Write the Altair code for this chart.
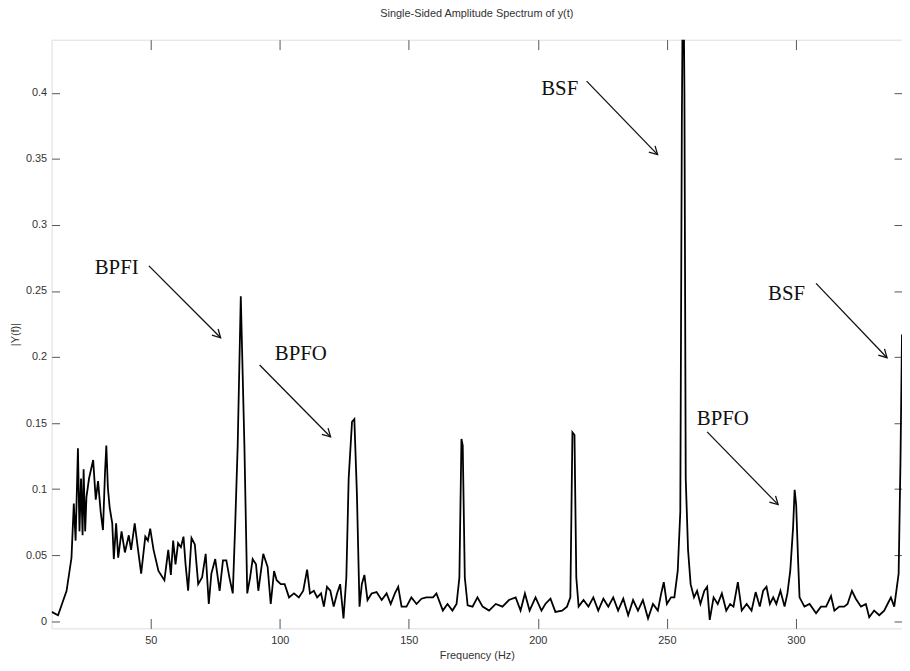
import altair as alt
import pandas as pd

# ---- data ----
freq = [11.6, 14.1, 17.4, 19.3, 20.2, 20.9, 21.8, 22.4, 23.0, 23.6, 24.0, 24.6, 25.1, 26.1, 27.7, 28.7, 29.6,
        30.6, 31.5, 32.3, 32.8, 33.4, 34.1, 35.1, 35.7, 36.6, 37.4, 38.7, 40.0, 41.5, 42.4, 43.8, 45.1, 46.3,
        47.9, 48.9, 49.8, 51.1, 53.0, 55.3, 56.8, 57.8, 58.7, 59.6, 60.6, 61.7, 62.7, 63.5, 64.5, 65.8, 67.1,
        68.4, 69.9, 71.3, 72.5, 73.5, 75.0, 76.7, 78.0, 79.3, 80.5, 81.8, 82.7, 83.7, 84.9, 86.3, 87.4, 88.5,
        89.5, 90.8, 91.7, 93.6, 95.3, 96.5, 97.8, 98.8, 100.4, 101.9, 103.6, 105.5, 107.4, 109.1, 110.6, 111.7,
        113.2, 114.5, 116.0, 117.1, 118.3, 119.6, 120.9, 122.2, 123.4, 124.7, 125.8, 126.7, 128.0, 128.9, 129.9,
        130.9, 131.8, 132.8, 134.0, 135.6, 137.5, 139.5, 141.4, 143.0, 144.6, 145.9, 147.2, 149.1, 151.0, 153.0,
        154.9, 156.8, 159.4, 160.7, 163.2, 165.0, 166.9, 168.5, 169.6, 170.4, 170.9, 171.7, 172.8, 174.7, 176.6,
        178.6, 181.1, 183.7, 186.3, 188.8, 191.4, 193.3, 195.0, 196.8, 199.1, 201.4, 202.9, 204.9, 206.8, 209.4,
        211.3, 212.6, 213.4, 214.2, 214.9, 215.8, 217.7, 219.6, 221.5, 223.4, 225.4, 227.3, 229.2, 231.1, 233.1,
        235.0, 236.9, 238.8, 240.7, 242.7, 244.6, 246.5, 247.8, 248.8, 250.0, 251.6, 252.9, 254.2, 255.2, 255.8,
        256.3, 256.8, 257.3, 258.2, 259.2, 260.5, 261.7, 263.0, 264.5, 265.6, 266.6, 268.1, 269.7, 271.3, 273.0,
        274.5, 275.8, 277.5, 279.0, 280.9, 282.8, 284.4, 286.0, 287.3, 288.6, 289.9, 291.2, 292.4, 294.0, 295.6,
        296.7, 297.8, 298.9, 299.5, 300.1, 300.8, 301.4, 303.3, 305.3, 307.8, 309.7, 311.7, 313.6, 314.9, 316.8,
        318.7, 320.0, 321.7, 323.2, 325.2, 327.1, 328.4, 330.3, 332.3, 334.2, 335.5, 336.8, 338.1, 339.8, 340.5,
        341.1]
amp = [0.007, 0.0045, 0.023, 0.048, 0.089, 0.061, 0.131, 0.068, 0.108, 0.065, 0.115, 0.068, 0.094, 0.108, 0.122,
       0.092, 0.106, 0.083, 0.069, 0.113, 0.133, 0.101, 0.086, 0.074, 0.047, 0.074, 0.048, 0.068, 0.052, 0.065,
       0.054, 0.074, 0.054, 0.036, 0.064, 0.061, 0.070, 0.054, 0.038, 0.031, 0.054, 0.035, 0.061, 0.043, 0.059,
       0.056, 0.064, 0.043, 0.023, 0.063, 0.058, 0.028, 0.033, 0.051, 0.013, 0.036, 0.047, 0.023, 0.046, 0.046,
       0.033, 0.021, 0.071, 0.133, 0.246, 0.133, 0.021, 0.033, 0.047, 0.043, 0.023, 0.051, 0.041, 0.013, 0.038,
       0.031, 0.028, 0.028, 0.018, 0.021, 0.018, 0.023, 0.039, 0.021, 0.023, 0.018, 0.021, 0.011, 0.026, 0.023,
       0.011, 0.021, 0.028, 0.002, 0.033, 0.108, 0.151, 0.153, 0.096, 0.011, 0.028, 0.035, 0.016, 0.021, 0.022,
       0.016, 0.021, 0.013, 0.021, 0.026, 0.011, 0.011, 0.018, 0.013, 0.017, 0.018, 0.018, 0.021, 0.008, 0.013,
       0.008, 0.013, 0.033, 0.138, 0.133, 0.033, 0.012, 0.011, 0.018, 0.011, 0.008, 0.013, 0.011, 0.016, 0.018,
       0.008, 0.021, 0.008, 0.018, 0.008, 0.013, 0.017, 0.007, 0.008, 0.011, 0.018, 0.143, 0.141, 0.033, 0.011,
       0.016, 0.011, 0.018, 0.008, 0.017, 0.011, 0.018, 0.008, 0.017, 0.0045, 0.016, 0.008, 0.016, 0.002, 0.013,
       0.008, 0.021, 0.0295, 0.013, 0.018, 0.018, 0.038, 0.083, 0.38, 0.52, 0.40, 0.108, 0.054, 0.028, 0.018,
       0.023, 0.013, 0.023, 0.026, 0.001, 0.018, 0.013, 0.021, 0.008, 0.013, 0.011, 0.0295, 0.008, 0.013, 0.008,
       0.022, 0.011, 0.023, 0.026, 0.013, 0.018, 0.013, 0.023, 0.011, 0.021, 0.038, 0.071, 0.0995, 0.088, 0.048,
       0.018, 0.011, 0.013, 0.006, 0.011, 0.011, 0.019, 0.008, 0.011, 0.011, 0.013, 0.023, 0.017, 0.011, 0.013,
       0.003, 0.008, 0.0045, 0.008, 0.013, 0.018, 0.011, 0.036, 0.12, 0.217]

x_ticks = [50, 100, 150, 200, 250, 300]
y_ticks = [0, 0.05, 0.1, 0.15, 0.2, 0.25, 0.3, 0.35, 0.4]
x_domain = [11.6, 341.1]
y_domain = [-0.0055, 0.4403]

labels = ["BPFI", "BPFO", "BSF", "BPFO", "BSF"]
label_f = [28.3, 98.1, 201.3, 261.6, 289.2]
label_v = [0.2673, 0.202, 0.4027, 0.1533, 0.2478]
arrow_f1 = [49.3, 92.2, 218.9, 265.6, 307.8]
arrow_v1 = [0.269, 0.194, 0.4089, 0.1433, 0.2558]
arrow_f2 = [77.1, 119.7, 246.4, 293.1, 335.3]
arrow_v2 = [0.2146, 0.1395, 0.3533, 0.0882, 0.1995]

title = "Single-Sided Amplitude Spectrum of y(t)"
x_title = "Frequency (Hz)"
y_title = "|Y(f)|"

# ---- chart ----
spec_df = pd.DataFrame({"freq": freq, "amp": amp})
lab_df = pd.DataFrame({"label": labels, "f": label_f, "v": label_v})
arr_df = pd.DataFrame({"f1": arrow_f1, "v1": arrow_v1, "f2": arrow_f2, "v2": arrow_v2})

narrow = "Liberation Sans Narrow, Liberation Sans, Arial"
xs = alt.Scale(domain=x_domain, nice=False, zero=False)
ys = alt.Scale(domain=y_domain, nice=False, zero=False)

common_axis = dict(grid=False, domain=False, tickColor="#555", tickWidth=1,
                   labelFont=narrow, labelFontSize=11, labelColor="#333",
                   titleFont=narrow, titleFontSize=11, titleColor="#333", titleFontWeight="normal")

x_bottom = alt.Axis(orient="bottom", values=x_ticks, offset=-10, tickSize=10, labelPadding=6,
                    title=x_title, titlePadding=4, **common_axis)
y_left = alt.Axis(orient="left", values=y_ticks, offset=-8, tickSize=8, labelPadding=5,
                  format=".2~f", title=y_title, titlePadding=5, **common_axis)
x_top = alt.Axis(orient="top", values=x_ticks, offset=-10, tickSize=10, labels=False, title=None,
                 grid=False, domain=False, tickColor="#555")
y_right = alt.Axis(orient="right", values=y_ticks, offset=-8, tickSize=8, labels=False, title=None,
                   grid=False, domain=False, tickColor="#555")

line = alt.Chart(spec_df).mark_line(color="black", strokeWidth=1.8, clip=True).encode(
    x=alt.X("freq:Q", scale=xs, axis=x_bottom),
    y=alt.Y("amp:Q", scale=ys, axis=y_left),
)

mirror = alt.Chart(spec_df).mark_line(opacity=0, clip=True).encode(
    x=alt.X("freq:Q", scale=xs, axis=x_top),
    y=alt.Y("amp:Q", scale=ys, axis=y_right),
)

arrows = alt.Chart(arr_df).mark_rule(color="#111", strokeWidth=1.3).encode(
    x=alt.X("f1:Q", scale=xs, axis=None), y=alt.Y("v1:Q", scale=ys, axis=None), x2="f2:Q", y2="v2:Q"
)

heads = alt.Chart(arr_df).mark_point(
    shape="M -1 -0.55 L 0 0 L -1 0.55", filled=False, color="#111", strokeWidth=1.3,
    size=260, angle=45, opacity=1
).encode(x=alt.X("f2:Q", scale=xs, axis=None), y=alt.Y("v2:Q", scale=ys, axis=None))

texts = alt.Chart(lab_df).mark_text(
    align="left", baseline="middle", font="Liberation Serif, Times New Roman, serif",
    fontSize=21, color="#111"
).encode(x=alt.X("f:Q", scale=xs, axis=None), y=alt.Y("v:Q", scale=ys, axis=None), text="label:N")

chart = alt.layer(
    line, mirror, arrows, heads, texts
).resolve_axis(x="independent", y="independent").properties(
    width=858, height=594,
    title=alt.TitleParams(title, font=narrow, fontSize=11, color="#333", fontWeight="normal",
                          anchor="middle", offset=20),
    autosize=alt.AutoSizeParams(type="none"),
    padding={"left": 44, "top": 29, "right": 0, "bottom": 40},
).configure_view(stroke="#555", strokeWidth=1.2).configure(background="white")

chart.save("out.html", embed_options={"renderer": "svg", "actions": False})
